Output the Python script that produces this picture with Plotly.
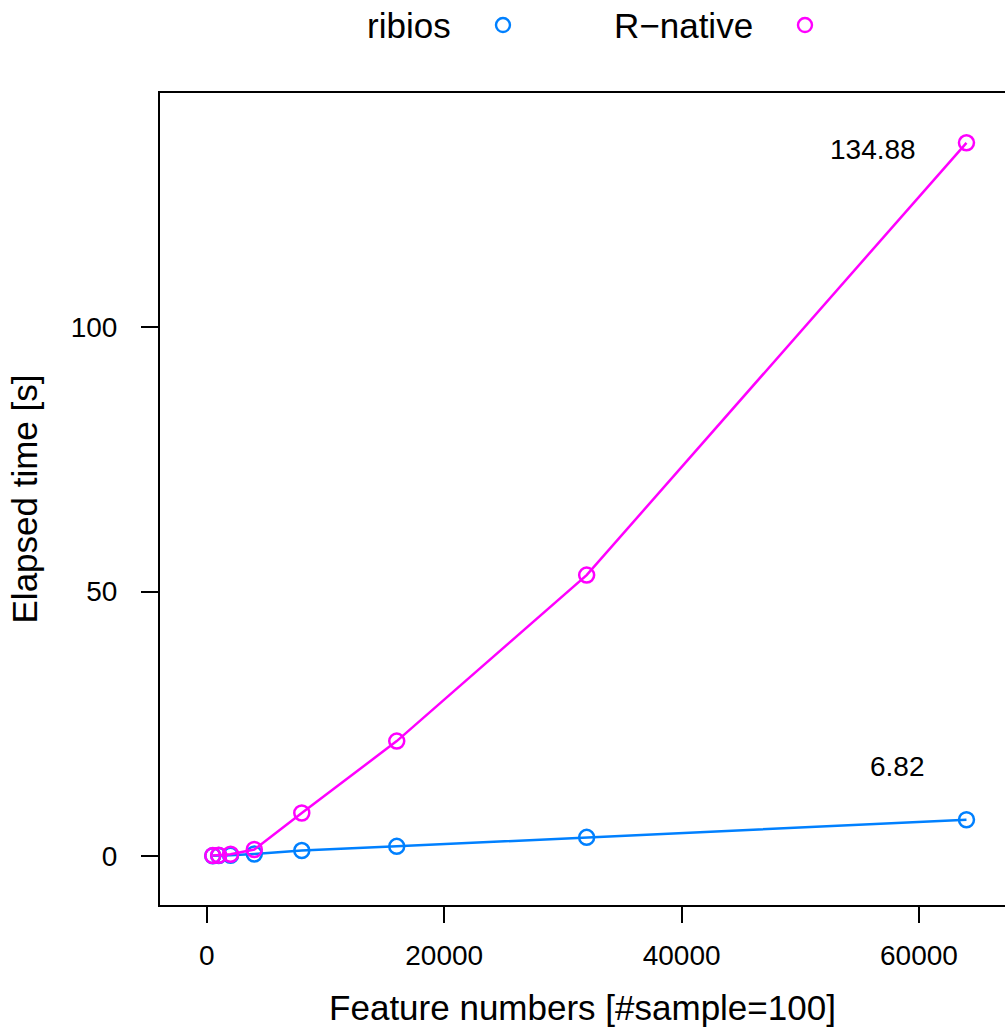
import plotly.graph_objects as go

features = [500, 1000, 2000, 4000, 8000, 16000, 32000, 64000]
ribios = [0.02, 0.04, 0.1, 0.35, 1.0, 1.8, 3.5, 6.82]
r_native = [0.05, 0.1, 0.3, 1.2, 8.1, 21.7, 53.1, 134.88]
series_names = ["ribios", "R\u2212native"]
series_colors = ["#0080ff", "#ff00ff"]
x_ticks = [0, 20000, 40000, 60000]
y_ticks = [0, 50, 100]
labels = ["134.88", "6.82"]

FONT = "Liberation Sans, Arial, Helvetica, sans-serif"

fig = go.Figure()
for name, vals, col in zip(series_names, [ribios, r_native], series_colors):
    fig.add_trace(go.Scatter(
        x=features, y=vals, mode="lines+markers", name=name,
        line=dict(color=col, width=2.5),
        marker=dict(symbol="circle-open", size=15, color=col, line=dict(width=2.5, color=col)),
        showlegend=False,
    ))

# value labels
fig.add_annotation(x=56100, y=133.6, xref="x", yref="y", text=labels[0],
                   showarrow=False, font=dict(size=28, color="black", family=FONT))
fig.add_annotation(x=58200, y=16.9, xref="x", yref="y", text=labels[1],
                   showarrow=False, font=dict(size=28, color="black", family=FONT))

# manual legend (symbol to the right of text)
leg_y = 1.0837
text_right = [0.3467, 0.7041]
sym_x = [0.4059, 0.7633]
for name, col, tx, sx in zip(series_names, series_colors, text_right, sym_x):
    fig.add_annotation(x=tx, y=leg_y, xref="paper", yref="paper", text=name,
                       showarrow=False, xanchor="right", yanchor="middle",
                       font=dict(size=35, color="black", family=FONT))
    fig.add_shape(type="circle", xref="paper", yref="paper",
                  xsizemode="pixel", ysizemode="pixel",
                  xanchor=sx, yanchor=leg_y, x0=-7, x1=7, y0=-7, y1=7,
                  line=dict(color=col, width=2.4))

fig.update_layout(
    width=1005, height=1032,
    margin=dict(l=160, r=0, t=93, b=127),
    paper_bgcolor="white", plot_bgcolor="white",
    font=dict(family=FONT, color="black"),
    showlegend=False,
)
fig.update_xaxes(
    range=[-3945, 67246], tickvals=x_ticks, ticktext=[str(v) for v in x_ticks],
    showgrid=False, zeroline=False, showline=True, mirror=True,
    linecolor="black", linewidth=2,
    ticks="outside", ticklen=16, tickwidth=2, tickcolor="black",
    tickfont=dict(size=28, family=FONT), ticklabelstandoff=8,
    title=dict(text="Feature numbers [#sample=100]", font=dict(size=35, family=FONT), standoff=26),
)
fig.update_yaxes(
    range=[-9.3, 144.3], tickvals=y_ticks, ticktext=[str(v) for v in y_ticks],
    showgrid=False, zeroline=False, showline=True, mirror=False,
    linecolor="black", linewidth=2,
    ticks="outside", ticklen=17, tickwidth=2, tickcolor="black",
    tickfont=dict(size=28, family=FONT), ticklabelstandoff=18,
    title=dict(text="Elapsed time [s]", font=dict(size=35, family=FONT), standoff=22),
)

fig.write_html("out.html",
               config={"displayModeBar": False},
               post_script="document.body.style.margin='0';document.body.style.overflow='hidden';")
